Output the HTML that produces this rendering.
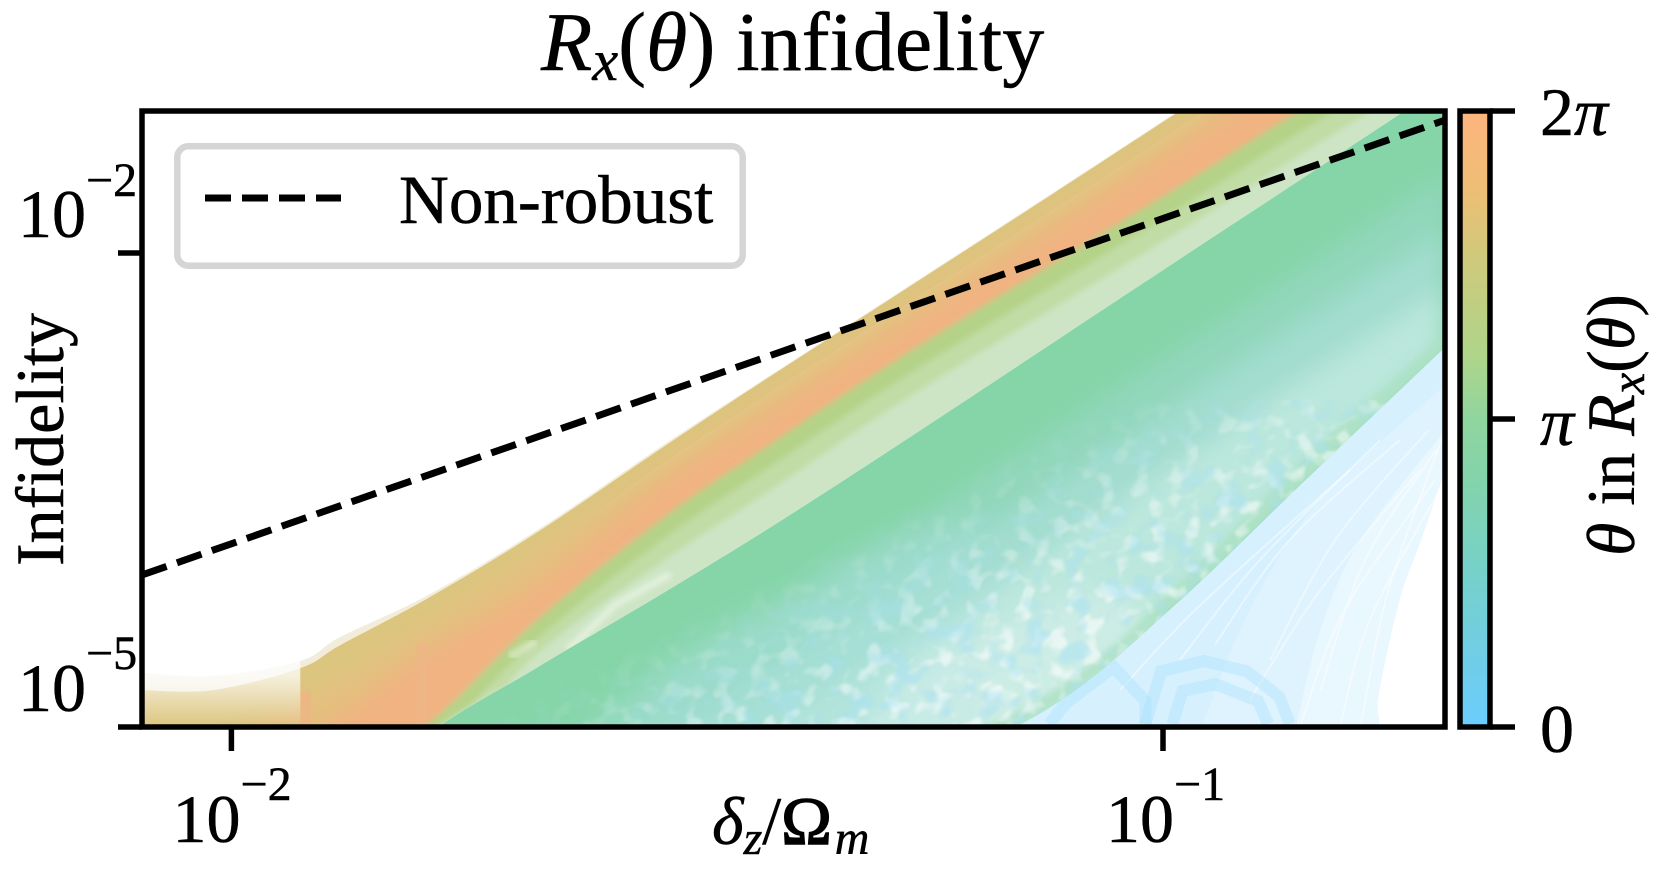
<!DOCTYPE html>
<html lang="en">
<head>
<meta charset="utf-8">
<title>Rx(theta) infidelity</title>
<style>
html,body{margin:0;padding:0;background:#fff;width:1679px;height:888px;overflow:hidden}
svg{display:block}
text{font-family:"Liberation Serif","DejaVu Serif",serif;fill:#000;stroke:#000;stroke-width:.5px}
.i{font-style:italic}
</style>
</head>
<body>
<svg xmlns="http://www.w3.org/2000/svg" id="chart" width="1679" height="888" viewBox="0 0 1679 888">
  <defs>
    <clipPath id="axes-clip"><rect x="142" y="111" width="1303" height="616"/></clipPath>
    <clipPath id="warm-clip"><path id="warm-clip-path" d=""/></clipPath>
    <clipPath id="cool-clip"><path id="cool-clip-path" d=""/></clipPath>
    <filter id="soft" x="-5%" y="-5%" width="110%" height="110%"><feGaussianBlur stdDeviation="3"/></filter>
    <filter id="tanblur" x="-5%" y="-5%" width="110%" height="110%"><feGaussianBlur stdDeviation="9"/></filter>
    <filter id="softer" x="-5%" y="-5%" width="110%" height="110%"><feGaussianBlur stdDeviation="12"/></filter>
    <filter id="softest" x="-10%" y="-10%" width="120%" height="120%"><feGaussianBlur stdDeviation="15"/></filter>
    <filter id="grain-white" x="0" y="0" width="1" height="1" color-interpolation-filters="sRGB">
      <feTurbulence type="fractalNoise" baseFrequency="0.06" numOctaves="2" seed="3"/>
      <feColorMatrix values="1 0 0 0 0  1 0 0 0 0  1 0 0 0 0  0 0 0 0 1"/>
      <feConvolveMatrix order="9" preserveAlpha="true" kernelMatrix="0 0 0 0 0 0 0 0 0  0 0 0 0 0 0 0 0 1  0 0 0 0 0 0 0 1 0  0 0 0 0 0 1 1 0 0  0 0 0 0 1 0 0 0 0  0 0 1 1 0 0 0 0 0  0 1 0 0 0 0 0 0 0  1 0 0 0 0 0 0 0 0  0 0 0 0 0 0 0 0 0"/>
      <feConvolveMatrix order="9" preserveAlpha="true" kernelMatrix="0 0 0 0 0 0 0 0 0  0 0 0 0 0 0 0 0 1  0 0 0 0 0 0 0 1 0  0 0 0 0 0 1 1 0 0  0 0 0 0 1 0 0 0 0  0 0 1 1 0 0 0 0 0  0 1 0 0 0 0 0 0 0  1 0 0 0 0 0 0 0 0  0 0 0 0 0 0 0 0 0"/>
      <feColorMatrix values="0 0 0 0 1  0 0 0 0 1  0 0 0 0 1  5 0 0 0 -2.5"/>
    </filter>
    <filter id="grain-blue" x="0" y="0" width="1" height="1" color-interpolation-filters="sRGB">
      <feTurbulence type="fractalNoise" baseFrequency="0.045" numOctaves="2" seed="11"/>
      <feColorMatrix values="1 0 0 0 0  1 0 0 0 0  1 0 0 0 0  0 0 0 0 1"/>
      <feConvolveMatrix order="9" preserveAlpha="true" kernelMatrix="0 0 0 0 0 0 0 0 0  0 0 0 0 0 0 0 0 1  0 0 0 0 0 0 0 1 0  0 0 0 0 0 1 1 0 0  0 0 0 0 1 0 0 0 0  0 0 1 1 0 0 0 0 0  0 1 0 0 0 0 0 0 0  1 0 0 0 0 0 0 0 0  0 0 0 0 0 0 0 0 0"/>
      <feConvolveMatrix order="9" preserveAlpha="true" kernelMatrix="0 0 0 0 0 0 0 0 0  0 0 0 0 0 0 0 0 1  0 0 0 0 0 0 0 1 0  0 0 0 0 0 1 1 0 0  0 0 0 0 1 0 0 0 0  0 0 1 1 0 0 0 0 0  0 1 0 0 0 0 0 0 0  1 0 0 0 0 0 0 0 0  0 0 0 0 0 0 0 0 0"/>
      <feColorMatrix values="0 0 0 0 0.66  0 0 0 0 0.88  0 0 0 0 0.96  5 0 0 0 -2.5"/>
    </filter>
    <linearGradient id="grain-fade" gradientUnits="userSpaceOnUse" x1="800" y1="560" x2="870" y2="700">
      <stop offset="0" stop-color="#000"/>
      <stop offset="1" stop-color="#fff"/>
    </linearGradient>
    <mask id="grain-mask" maskUnits="userSpaceOnUse" x="430" y="400" width="1015" height="327">
      <rect x="430" y="400" width="1015" height="327" fill="url(#grain-fade)"/>
    </mask>
    <linearGradient id="wash-fade" gradientUnits="userSpaceOnUse" x1="0" y1="675" x2="0" y2="727">
      <stop offset="0" stop-color="#fff" stop-opacity="0.75"/>
      <stop offset="1" stop-color="#fff" stop-opacity="0"/>
    </linearGradient>
    <linearGradient id="cmap" x1="0" y1="1" x2="0" y2="0">
      <stop offset="0" stop-color="#6ccdfd"/>
      <stop offset="0.11" stop-color="#70cde7"/>
      <stop offset="0.22" stop-color="#74d0d0"/>
      <stop offset="0.33" stop-color="#7dd2b9"/>
      <stop offset="0.41" stop-color="#84d3a9"/>
      <stop offset="0.5" stop-color="#90d59f"/>
      <stop offset="0.6" stop-color="#aed58a"/>
      <stop offset="0.76" stop-color="#cfc97b"/>
      <stop offset="0.87" stop-color="#edbe75"/>
      <stop offset="1" stop-color="#feb47e"/>
    </linearGradient>
  </defs>

  <text x="541" y="70" font-size="84"><tspan class="i">R</tspan><tspan class="i" font-size="58" dy="10">x</tspan><tspan dy="-10">(</tspan><tspan class="i">θ</tspan><tspan>) infidelity</tspan></text>

  <g id="plot-area" clip-path="url(#axes-clip)"></g>

  <g fill="none" stroke="#000" stroke-width="5.5">
    <rect x="142" y="111" width="1303" height="616"/>
  </g>
  <g id="tick-layer"></g>
  <g id="line-layer" clip-path="url(#axes-clip)"></g>

  <text x="18" y="237" font-size="68">10<tspan font-size="48" dy="-41">−2</tspan></text>
  <text x="18" y="711" font-size="68">10<tspan font-size="48" dy="-42">−5</tspan></text>
  <text x="172.5" y="842" font-size="68">10<tspan font-size="48" dy="-42">−2</tspan></text>
  <text x="1106" y="842" font-size="68">10<tspan font-size="48" dy="-42">−1</tspan></text>

  <text x="712" y="844" font-size="68"><tspan class="i">δ</tspan><tspan class="i" font-size="48" dy="10">z</tspan><tspan dy="-10">/</tspan><tspan style="stroke-width:1.6px">Ω</tspan><tspan class="i" font-size="48" dy="10" dx="3">m</tspan></text>
  <text transform="translate(63 566) rotate(-90)" font-size="68">Infidelity</text>

  <g>
    <rect x="177.3" y="146.3" width="565.4" height="119.4" rx="11" fill="#fff" stroke="#d5d5d5" stroke-width="6.5"/>
    <line x1="205" y1="198" x2="341" y2="198" stroke="#000" stroke-width="7" stroke-dasharray="26 11"/>
    <text x="399" y="223" font-size="69">Non-robust</text>
  </g>

  <g>
    <rect x="1460" y="111" width="30" height="616" fill="url(#cmap)" stroke="#000" stroke-width="5.5"/>
    <text x="1540" y="135" font-size="68">2<tspan class="i">π</tspan></text>
    <text x="1540" y="445" font-size="68" class="i">π</text>
    <text x="1540" y="752" font-size="68">0</text>
    <text transform="translate(1634 556) rotate(-90)" font-size="68"><tspan class="i">θ</tspan><tspan> in </tspan><tspan class="i">R</tspan><tspan class="i" font-size="48" dy="10">x</tspan><tspan dy="-10">(</tspan><tspan class="i">θ</tspan><tspan>)</tspan></text>
  </g>
</svg>

<script>
// Sample positions along the x axis, as log10(delta_z / Omega_m).
const logDelta = [-2.096,-2.019,-1.926,-1.883,-1.789,-1.673,-1.535,-1.421,-1.283,-1.117,-0.987,-0.858,-0.697];

// Envelope curves of the fan of infidelity lines, as log10(infidelity) at each logDelta.
const fringeTop  = [-4.658,-4.677,-4.582,-4.430,-4.165,-3.759,-3.209,-2.772,-2.247,-1.614,-1.114,-0.620,-0.006];
const tanTop     = [-4.766,-4.766,-4.627,-4.481,-4.184,-3.772,-3.222,-2.778,-2.253,-1.620,-1.120,-0.627,-0.013];
const tanMid     = [-5.082,-5.082,-4.829,-4.703,-4.354,-3.911,-3.323,-2.880,-2.354,-1.722,-1.222,-0.728,-0.114];
const orangeTop  = [-5.209,-5.272,-5.114,-4.924,-4.513,-4.101,-3.437,-2.994,-2.468,-1.835,-1.335,-0.842,-0.228];
const orangeLow  = [-5.462,-5.462,-5.462,-5.272,-4.981,-4.329,-3.671,-3.209,-2.665,-2.063,-1.595,-1.114,-0.525];
const oliveLow   = [-5.5,-5.5,-5.5,-5.4,-5.114,-4.449,-3.804,-3.348,-2.804,-2.203,-1.734,-1.253,-0.665];
const sageLow    = [-5.6,-5.6,-5.6,-5.5,-5.272,-4.544,-3.943,-3.5,-2.949,-2.348,-1.880,-1.399,-0.810];
const paleLow    = [-5.7,-5.7,-5.7,-5.6,-5.05,-4.627,-4.146,-3.734,-3.209,-2.563,-2.057,-1.557,-0.930];
const mintLow    = [-5.75,-5.75,-5.75,-5.75,-5.7,-5.6,-4.73,-4.29,-3.76,-3.12,-2.62,-2.13,-1.51];
const tealLow    = [-5.8,-5.8,-5.8,-5.8,-5.75,-5.7,-5.07,-4.63,-4.10,-3.47,-2.965,-2.46,-1.86];
const aquaLow    = [-5.85,-5.85,-5.85,-5.85,-5.8,-5.75,-5.44,-5.0,-4.48,-3.85,-3.34,-2.83,-2.23];
const rimTop     = [-5.9,-5.9,-5.9,-5.9,-5.85,-5.8,-5.7,-5.5,-5.25,-4.766,-4.133,-3.361,-2.519];
const rimLow     = [-5.95,-5.95,-5.95,-5.95,-5.9,-5.85,-5.75,-5.6,-5.335,-4.861,-4.228,-3.5,-2.595];

// Small-angle blue lines: outer edge of the fan and two denser inner edges.
const blueOuterDelta = [-0.768,-0.768,-0.768,-0.746,-0.724,-0.697];
const blueOuterInf   = [-5.2,-4.975,-4.785,-4.196,-3.835,-3.373];
const blueMidDelta   = [-0.858,-0.831,-0.788,-0.697];
const blueMidInf     = [-5.019,-4.386,-3.816,-3.120];
const blueDenseDelta = [-0.960,-0.907,-0.831,-0.697];
const blueDenseInf   = [-5.019,-4.259,-3.563,-2.835];

// Individual gaps between small-angle lines.
const gapLineDelta = [[-0.944,-0.864,-0.746],[-0.907,-0.831,-0.724],[-0.853,-0.805,-0.708],[-0.810,-0.778,-0.703],[-1.046,-0.960,-0.799],[-0.982,-0.896,-0.767],[-0.885,-0.815,-0.715],[-0.831,-0.783,-0.707],[-0.788,-0.758,-0.701]];
const gapLineInf   = [[-4.475,-3.816,-3.184],[-4.829,-4.133,-3.373],[-5,-4.259,-3.437],[-5,-4.323,-3.5],[-4.766,-4.228,-3.373],[-4.576,-3.943,-3.184],[-4.576,-3.816,-3.120],[-4.766,-3.943,-3.247],[-5,-4.133,-3.184]];

// Looping low-infidelity curves at the bottom of the plot.
const loopDelta = [[-1.019,-1.002,-0.956,-0.910,-0.875,-0.864],[-1.122,-1.105,-1.053,-1.019,-1.019],[-0.990,-0.979,-0.944,-0.898,-0.887]];
const loopInf   = [[-4.981,-4.646,-4.582,-4.646,-4.810,-4.981],[-4.981,-4.854,-4.620,-4.835,-4.981],[-4.981,-4.772,-4.728,-4.835,-4.981]];

// Pale streaks inside the light green band.
const streakDelta = [[-1.639,-1.587,-1.529],[-1.702,-1.673]];
const streakInf   = [[-4.513,-4.222,-4.032],[-4.557,-4.456]];

// Orange steps at the left of the fan.
const stepDelta = [[-1.926,-1.915],[-1.801,-1.790]];
const stepTopInf = [-4.778,-4.475];

// Pale wash on the far left, where few lines overlap.
const washDelta = [-2.096,-2.019,-1.926];
const washInf   = [-4.658,-4.677,-4.582];

// Mottled haze near the bottom (top outline, closed along the lower axis).
const hazeTealDelta = [-1.628,-1.517,-1.407,-1.300,-1.200];
const hazeTealInf   = [-5.05,-4.530,-4.190,-3.850,-3.700];
const hazePaleDelta = [-1.330,-1.250,-1.150,-1.050,-0.990];
const hazePaleInf   = [-5.05,-4.500,-4.300,-4.150,-4.600];

// Non-robust reference line.
const nonRobustDelta = [-2.096,-1.300,-0.697];
const nonRobustInf   = [-4.038,-2.399,-1.158];

// Tick positions.
const xTickExp = [-2,-1];
const yTickExp = [-5,-2];
const colorbarTicks = [0,1,2];

const SVG = 'http://www.w3.org/2000/svg';
const xScale = e => 231.4 + (e + 2) * 931.6;
const yScale = e => 727 - (e + 5) * 158;
const cbScale = v => 727 - v * 308;

function node(tag, parent) {
  const el = document.createElementNS(SVG, tag);
  parent.appendChild(el);
  return el;
}
function xy(xs, ys) {
  return xs.map((x, i) => [xScale(x), yScale(ys[i])]);
}
function pts(xs, ys) {
  return xy(xs, ys).map(p => p[0].toFixed(1) + ',' + p[1].toFixed(1));
}
function fmt(p) {
  return p[0].toFixed(1) + ' ' + p[1].toFixed(1);
}
function smooth(p) {
  let d = '';
  for (let i = 0; i < p.length - 1; i++) {
    const a = p[Math.max(i - 1, 0)], b = p[i], c = p[i + 1], e = p[Math.min(i + 2, p.length - 1)];
    d += 'C' + fmt([b[0] + (c[0] - a[0]) / 6, b[1] + (c[1] - a[1]) / 6]) + ' ' + fmt([c[0] - (e[0] - b[0]) / 6, c[1] - (e[1] - b[1]) / 6]) + ' ' + fmt(c);
  }
  return d;
}
function bandPath(upper, lower) {
  const a = xy(logDelta, upper);
  const b = xy(logDelta, lower).reverse();
  return 'M' + fmt(a[0]) + smooth(a) + 'L' + fmt(b[0]) + smooth(b) + 'Z';
}
function closedToFloor(xs, ys) {
  const a = xy(xs, ys);
  const floor = yScale(-5.3);
  return 'M' + fmt([a[0][0], floor]) + 'L' + fmt(a[0]) + smooth(a) + 'L' + fmt([a[a.length - 1][0], floor]) + 'Z';
}

const plot = document.getElementById('plot-area');

// pale outer fringe of the large-angle lines
const fringe = node('path', plot);


fringe.setAttribute('d', bandPath(fringeTop, tanTop));
fringe.setAttribute('fill', '#f2ecda');

// small-angle blue region (its upper-left side stays hidden under the mid-angle bands)
const blueGroup = node('g', plot);


[[blueOuterDelta, blueOuterInf, '#e9f7fe'], [blueMidDelta, blueMidInf, '#def3fe'], [blueDenseDelta, blueDenseInf, '#d6f0fe']].forEach(spec => {
  const p = node('path', blueGroup);
  
  
  const a = xy(spec[0], spec[1]);
  p.setAttribute('d', 'M' + fmt([xScale(-1.25), yScale(-5.3)]) + 'L' + fmt([a[0][0], yScale(-5.3)]) + 'L' + fmt(a[0]) + smooth(a) + 'L' + fmt([xScale(-0.697), yScale(-1.5)]) + 'L' + fmt([xScale(-1.25), yScale(-3.6)]) + 'Z');
  p.setAttribute('fill', spec[2]);
});
gapLineDelta.forEach((xs, i) => {
  const l = node('path', blueGroup);
  
  
  const a = xy(xs, gapLineInf[i]);
  l.setAttribute('d', 'M' + fmt(a[0]) + smooth(a));
  l.setAttribute('fill', 'none');
  l.setAttribute('stroke', '#fff');
  l.setAttribute('stroke-opacity', '0.45');
  l.setAttribute('stroke-width', '2');
});
loopDelta.forEach((xs, i) => {
  const l = node('polyline', blueGroup);
  
  
  l.setAttribute('points', pts(xs, loopInf[i]).join(' '));
  l.setAttribute('fill', 'none');
  l.setAttribute('stroke', '#a6e0fc');
  l.setAttribute('stroke-opacity', '0.38');
  l.setAttribute('stroke-width', '12');
});

// warm bands: tan through orange to pale green
document.getElementById('warm-clip-path').setAttribute('d', bandPath(tanTop, paleLow));
const warmClip = node('g', plot);
warmClip.setAttribute('clip-path', 'url(#warm-clip)');


const warmBase = node('path', warmClip);


warmBase.setAttribute('d', bandPath(tanTop, tanMid));
warmBase.setAttribute('fill', '#dcc57e');
const warmBase2 = node('path', warmClip);


warmBase2.setAttribute('d', bandPath(orangeLow, paleLow));
warmBase2.setAttribute('fill', '#cde5c4');
const warmWide = node('g', warmClip);
warmWide.setAttribute('filter', 'url(#tanblur)');


[[tanTop, tanMid, '#dcc57e', 'band-tan'], [tanMid, orangeTop, '#e4bf7e', 'band-tan-orange'], [orangeTop, oliveLow, '#f0b381', 'band-orange']].forEach(spec => {
  const p = node('path', warmWide);
  
  
  p.setAttribute('d', bandPath(spec[0], spec[1]));
  p.setAttribute('fill', spec[2]);
});
const warmSoft = node('g', warmClip);
warmSoft.setAttribute('filter', 'url(#soft)');


[[orangeLow, oliveLow, '#b5d388', 'band-olive'], [oliveLow, sageLow, '#c1dca5', 'band-sage'], [sageLow, paleLow, '#cde5c4', 'band-pale-green']].forEach(spec => {
  const p = node('path', warmSoft);
  
  
  p.setAttribute('d', bandPath(spec[0], spec[1]));
  p.setAttribute('fill', spec[2]);
});
streakDelta.forEach((xs, i) => {
  const l = node('polyline', warmClip);
  
  
  l.setAttribute('points', pts(xs, streakInf[i]).join(' '));
  l.setAttribute('fill', 'none');
  l.setAttribute('stroke', '#fff');
  l.setAttribute('stroke-opacity', '0.45');
  l.setAttribute('stroke-width', '7');
  l.setAttribute('filter', 'url(#soft)');
});
stepDelta.forEach((xs, i) => {
  const r = node('rect', plot);
  
  
  r.setAttribute('x', xScale(xs[0]));
  r.setAttribute('width', xScale(xs[1]) - xScale(xs[0]));
  r.setAttribute('y', yScale(stepTopInf[i]));
  r.setAttribute('height', yScale(-5) - yScale(stepTopInf[i]));
  r.setAttribute('fill', '#efb585');
  r.setAttribute('fill-opacity', '0.85');
});
const wash = node('path', plot);


wash.setAttribute('d', closedToFloor(washDelta, washInf));
wash.setAttribute('fill', 'url(#wash-fade)');

// cool bands: mint through teal to the green rim
document.getElementById('cool-clip-path').setAttribute('d', bandPath(paleLow, rimLow));
const coolClip = node('g', plot);
coolClip.setAttribute('clip-path', 'url(#cool-clip)');


const coolBase = node('path', coolClip);


coolBase.setAttribute('d', bandPath(paleLow, rimLow));
coolBase.setAttribute('fill', '#86d5a9');
const coolSoft = node('g', coolClip);
coolSoft.setAttribute('filter', 'url(#softer)');


[[mintLow, tealLow, '#91d7bc', 'band-teal'], [tealLow, aquaLow, '#a3ddcf', 'band-aqua'], [aquaLow, rimLow, '#bbe7dc', 'band-pale-aqua']].forEach(spec => {
  const p = node('path', coolSoft);
  
  
  p.setAttribute('d', bandPath(spec[0], spec[1]));
  p.setAttribute('fill', spec[2]);
});
const hazeTeal = node('path', coolClip);


hazeTeal.setAttribute('d', closedToFloor(hazeTealDelta, hazeTealInf));
hazeTeal.setAttribute('fill', '#a9e0dc');
hazeTeal.setAttribute('fill-opacity', '0.45');
hazeTeal.setAttribute('filter', 'url(#softest)');
const hazePale = node('path', coolClip);


hazePale.setAttribute('d', closedToFloor(hazePaleDelta, hazePaleInf));
hazePale.setAttribute('fill', '#e6f6f2');
hazePale.setAttribute('fill-opacity', '0.4');
hazePale.setAttribute('filter', 'url(#softest)');
const rim = node('path', coolClip);


rim.setAttribute('d', bandPath(rimTop, rimLow));
rim.setAttribute('fill', '#afe2c6');
rim.setAttribute('fill-opacity', '0.8');
rim.setAttribute('filter', 'url(#soft)');

// fine mottled texture over the lower part of the fan
const grainGroup = node('g', coolClip);
grainGroup.setAttribute('mask', 'url(#grain-mask)');


['grain-white', 'grain-blue'].forEach(id => {
  const r = node('rect', grainGroup);
  
  
  r.setAttribute('x', 430);
  r.setAttribute('y', 400);
  r.setAttribute('width', 1015);
  r.setAttribute('height', 327);
  r.setAttribute('filter', 'url(#' + id + ')');
  r.setAttribute('opacity', id === 'grain-white' ? '0.55' : '0.5');
});

// non-robust dashed line
const lineLayer = document.getElementById('line-layer');
const nonRobust = node('polyline', lineLayer);


nonRobust.setAttribute('points', pts(nonRobustDelta, nonRobustInf).join(' '));
nonRobust.setAttribute('fill', 'none');
nonRobust.setAttribute('stroke', '#000');
nonRobust.setAttribute('stroke-width', '7');
nonRobust.setAttribute('stroke-dasharray', '26 11');

// tick marks
const ticks = document.getElementById('tick-layer');
xTickExp.forEach(e => {
  const t = node('line', ticks);
  
  
  t.setAttribute('x1', xScale(e));
  t.setAttribute('x2', xScale(e));
  t.setAttribute('y1', 727);
  t.setAttribute('y2', 751);
  t.setAttribute('stroke', '#000');
  t.setAttribute('stroke-width', '5.5');
});
yTickExp.forEach(e => {
  const t = node('line', ticks);
  
  
  t.setAttribute('x1', 118);
  t.setAttribute('x2', 142);
  t.setAttribute('y1', yScale(e));
  t.setAttribute('y2', yScale(e));
  t.setAttribute('stroke', '#000');
  t.setAttribute('stroke-width', '5.5');
});
colorbarTicks.forEach(v => {
  const t = node('line', ticks);
  
  
  t.setAttribute('x1', 1490);
  t.setAttribute('x2', 1515);
  t.setAttribute('y1', cbScale(v));
  t.setAttribute('y2', cbScale(v));
  t.setAttribute('stroke', '#000');
  t.setAttribute('stroke-width', '5.5');
});
</script>
</body>
</html>
